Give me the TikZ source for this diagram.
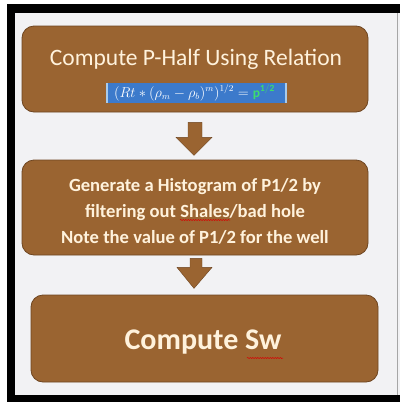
\documentclass[tikz,border=0pt]{standalone}
\usepackage{fontspec}
\setmainfont{Carlito}
\usetikzlibrary{calc,decorations.pathmorphing}
\definecolor{brownbox}{HTML}{9A6431}
\definecolor{brownedge}{HTML}{6E4520}
\definecolor{creamtxt}{HTML}{FFF2DC}
\definecolor{bgpanel}{HTML}{F2F2F4}
\definecolor{bluebox}{HTML}{3C7ACB}
\definecolor{bluebar}{HTML}{A9CBEB}
\definecolor{greentxt}{HTML}{3DDC6E}
\begin{document}
\begin{tikzpicture}[x=1pt,y=-1pt,
  stepbox/.style={draw=brownedge, line width=0.8pt, fill=brownbox, rounded corners=12pt, inner sep=0pt},
  blockarrow/.style={fill=brownbox, draw=brownedge, line width=0.4pt},
  squiggle/.style={draw=red!85!black, line width=0.5pt, decorate, decoration={snake, amplitude=0.6pt, segment length=2.5pt}}]
\useasboundingbox (0,0) rectangle (404,402);
\fill[white] (0,0) rectangle (404,402);
\fill[black] (7,4) rectangle (400,402);
\fill[bgpanel] (15,13) rectangle (400,395);
\draw[gray!70, line width=0.6pt] (397,13) -- (397,395);
% boxes
\node[stepbox, minimum width=346pt, minimum height=86pt] (b1) at (195,69) {};
\node[stepbox, minimum width=346pt, minimum height=95pt] (b2) at (195,207.5) {};
\node[stepbox, minimum width=347pt, minimum height=87pt] (b3) at (204.5,338.5) {};
% box 1 content
\node[text=creamtxt, font=\fontsize{23.5}{28}\selectfont, inner sep=0pt] (t1) at (196,59) {Compute P-Half Using Relation};
\node[fill=bluebox, minimum width=181pt, minimum height=20pt, inner sep=0pt] (f1) at (196.5,93) {};
\fill[bluebar] (f1.north west) rectangle ($(f1.south west)+(2,0)$);
\fill[bluebar] ($(f1.north east)+(-2,0)$) rectangle (f1.south east);
\node[text=white, font=\fontsize{13.5}{15}\selectfont, inner sep=0pt] (f1t) at ($(f1.center)+(-2,0)$)
  {$(Rt \ast (\rho_m - \rho_b)^m)^{1/2} = \textcolor{greentxt}{\mathbf{p}^{\mathbf{1/2}}}$};
% box 2 content
\node[text=creamtxt, font=\bfseries\fontsize{18.6}{26}\selectfont, align=center, inner sep=0pt] (t2) at (195,211)
  {Generate a Histogram of P1/2 by\\ filtering out Shales/bad hole\\ Note the value of P1/2 for the well};
% box 3 content
\node[text=creamtxt, font=\bfseries\fontsize{30}{34}\selectfont, inner sep=0pt] (t3) at (203,342) {Compute Sw};
% spell-check squiggles
\coordinate (s1a) at (180,220);
\coordinate (s1b) at (230,220);
\draw[squiggle] (s1a) -- (s1b);
\coordinate (s2a) at (247,358);
\coordinate (s2b) at (283,358);
\draw[squiggle] (s2a) -- (s2b);
% block arrows
\draw[blockarrow] ($(b1.south)+(-7,10)$) -- ($(b1.south)+(7,10)$) -- ($(b1.south)+(7,25)$)
  -- ($(b1.south)+(17,25)$) -- ($(b1.south)+(-1,43)$) -- ($(b1.south)+(-19,25)$)
  -- ($(b1.south)+(-7,25)$) -- cycle;
\draw[blockarrow] ($(b2.south)+(-5,3)$) -- ($(b2.south)+(7,3)$) -- ($(b2.south)+(7,12)$)
  -- ($(b2.south)+(17,12)$) -- ($(b2.south)+(-1,33)$) -- ($(b2.south)+(-18,12)$)
  -- ($(b2.south)+(-5,12)$) -- cycle;
\end{tikzpicture}
\end{document}
